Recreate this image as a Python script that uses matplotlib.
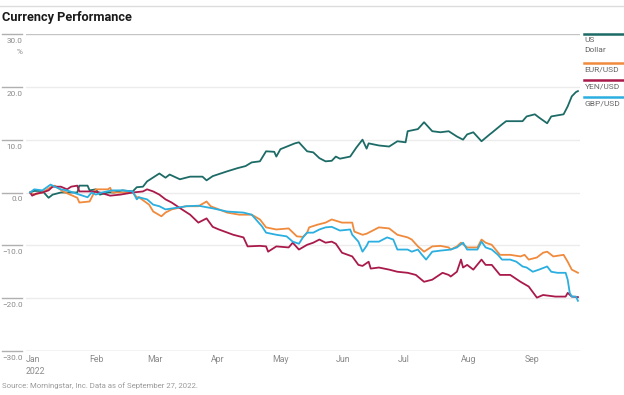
import matplotlib
matplotlib.use("Agg")
import matplotlib.pyplot as plt
from matplotlib.lines import Line2D
from matplotlib.transforms import blended_transform_factory
import pandas as pd

# ---- data ----
usd_dates = ["01-03", "01-05", "01-09", "01-12", "01-14", "01-18", "01-26", "01-27", "01-31", "02-01",
             "02-04", "02-06", "02-10", "02-13", "02-17", "02-22", "02-24", "02-27", "03-01", "03-07",
             "03-10", "03-12", "03-17", "03-22", "03-28", "03-30", "04-02", "04-09", "04-14", "04-18",
             "04-21", "04-25", "04-28", "05-02", "05-03", "05-05", "05-12", "05-14", "05-18", "05-21",
             "05-24", "05-27", "05-30", "06-01", "06-03", "06-08", "06-11", "06-14", "06-16", "06-17",
             "06-22", "06-27", "07-01", "07-05", "07-06", "07-11", "07-14", "07-18", "07-22", "07-26",
             "07-30", "08-02", "08-04", "08-07", "08-11", "08-15", "08-16", "08-21", "08-23", "08-31",
             "09-02", "09-06", "09-08", "09-12", "09-14", "09-20", "09-22", "09-24", "09-26", "09-27"]
usd_vals = [0.0, 0.3, 0.3, -1.0, -0.4, 0.0, 0.0, 1.3, 1.3, 0.4,
            0.6, -0.4, 0.0, 0.0, 0.4, 0.2, 1.0, 1.1, 2.1, 3.6,
            2.8, 3.4, 2.5, 3.0, 3.0, 2.3, 3.1, 4.0, 4.6, 5.0,
            5.7, 5.9, 7.8, 7.7, 6.8, 8.2, 9.3, 9.5, 7.8, 7.6,
            6.5, 5.9, 6.0, 6.8, 6.4, 6.8, 8.5, 10.0, 8.3, 9.3,
            8.9, 8.7, 9.7, 9.5, 11.6, 12.0, 13.3, 11.6, 11.4, 11.6,
            10.6, 10.0, 11.0, 11.4, 9.7, 11.0, 11.3, 12.9, 13.5, 13.5,
            14.4, 14.8, 14.2, 13.1, 14.4, 14.8, 16.3, 18.2, 19.0, 19.2]

eur_dates = ["01-03", "01-05", "01-09", "01-13", "01-15", "01-19", "01-26", "01-27", "02-01", "02-04",
             "02-10", "02-11", "02-12", "02-22", "02-24", "02-25", "03-02", "03-04", "03-08", "03-10",
             "03-13", "03-20", "03-26", "03-30", "04-01", "04-09", "04-15", "04-21", "04-25", "04-28",
             "05-03", "05-09", "05-13", "05-16", "05-18", "05-19", "05-23", "05-27", "05-30", "06-04",
             "06-09", "06-10", "06-14", "06-16", "06-22", "06-27", "07-01", "07-06", "07-08", "07-11",
             "07-14", "07-18", "07-22", "07-26", "07-27", "07-30", "08-01", "08-04", "08-09", "08-11",
             "08-13", "08-16", "08-20", "08-25", "08-30", "09-01", "09-03", "09-07", "09-10", "09-12",
             "09-15", "09-20", "09-22", "09-24", "09-27"]
eur_vals = [0.0, -0.4, 0.0, 1.0, 1.3, 0.2, -1.0, -1.9, -1.7, 0.6,
            0.6, 0.9, 0.0, 0.0, -0.9, -0.9, -2.3, -3.6, -4.5, -3.8,
            -3.2, -2.6, -2.6, -1.7, -2.6, -3.8, -4.2, -4.2, -5.1, -6.6,
            -7.0, -6.8, -8.3, -8.4, -7.6, -6.6, -6.1, -5.7, -5.1, -5.7,
            -5.7, -7.4, -8.0, -7.8, -6.6, -6.8, -8.0, -8.5, -8.9, -10.2,
            -11.2, -10.2, -10.1, -10.4, -10.8, -10.2, -9.5, -10.4, -10.4, -8.9,
            -9.5, -9.9, -11.8, -11.8, -12.1, -11.8, -12.7, -12.3, -11.4, -11.2,
            -12.1, -11.8, -13.1, -14.6, -15.2]

yen_dates = ["01-03", "01-04", "01-06", "01-09", "01-12", "01-14", "01-18", "01-21", "01-23", "01-26",
             "01-27", "02-02", "02-06", "02-11", "02-16", "02-22", "02-27", "03-01", "03-04", "03-07",
             "03-10", "03-13", "03-18", "03-22", "03-26", "03-30", "04-02", "04-05", "04-12", "04-17",
             "04-19", "04-25", "04-28", "04-29", "05-03", "05-09", "05-11", "05-14", "05-18", "05-21",
             "05-24", "05-27", "05-30", "06-01", "06-04", "06-09", "06-12", "06-14", "06-17", "06-18",
             "06-22", "06-27", "07-01", "07-06", "07-10", "07-14", "07-18", "07-23", "07-26", "07-27",
             "07-30", "08-01", "08-02", "08-04", "08-07", "08-11", "08-13", "08-16", "08-20", "08-25",
             "08-30", "09-03", "09-07", "09-10", "09-16", "09-21", "09-22", "09-24", "09-27"]
yen_vals = [0.0, -0.6, -0.2, 0.0, 0.4, 1.1, 1.1, 0.6, 1.1, 1.3,
            0.2, 0.2, 0.0, -0.6, -0.4, 0.0, 0.2, 0.6, 0.2, -0.4,
            -1.3, -1.9, -3.2, -4.2, -5.7, -4.9, -6.5, -7.0, -8.0, -8.5,
            -10.2, -10.1, -10.2, -11.2, -10.2, -10.4, -9.5, -10.8, -9.9, -9.5,
            -8.9, -9.5, -9.3, -9.7, -11.4, -12.1, -13.7, -13.9, -13.1, -14.4,
            -14.2, -14.6, -15.0, -15.2, -15.6, -16.9, -16.5, -15.2, -15.6, -15.9,
            -15.0, -12.7, -14.2, -13.7, -14.6, -12.7, -13.7, -13.7, -15.6, -15.6,
            -16.9, -17.8, -19.9, -19.4, -19.7, -19.7, -19.0, -19.7, -19.8]

gbp_dates = ["01-03", "01-05", "01-09", "01-13", "01-15", "01-18", "01-21", "01-24", "01-27", "01-31",
             "02-02", "02-04", "02-07", "02-12", "02-17", "02-22", "02-24", "02-25", "03-01", "03-04",
             "03-07", "03-10", "03-17", "03-20", "03-26", "04-02", "04-09", "04-17", "04-21", "04-26",
             "04-28", "05-03", "05-08", "05-11", "05-14", "05-16", "05-18", "05-21", "05-24", "05-27",
             "05-30", "06-03", "06-08", "06-09", "06-12", "06-14", "06-16", "06-17", "06-22", "06-26",
             "06-29", "07-01", "07-06", "07-08", "07-11", "07-13", "07-15", "07-18", "07-22", "07-27",
             "07-30", "08-02", "08-04", "08-09", "08-11", "08-13", "08-16", "08-19", "08-21", "08-25",
             "08-28", "08-31", "09-02", "09-05", "09-08", "09-12", "09-14", "09-17", "09-21", "09-22",
             "09-23", "09-24", "09-26", "09-27"]
gbp_vals = [0.0, 0.6, 0.4, 1.5, 1.1, 0.6, 0.4, 0.0, -0.4, -0.9,
            0.0, -0.4, 0.0, 0.4, 0.4, 0.2, -1.3, -0.9, -1.3, -2.3,
            -2.6, -3.2, -2.8, -2.6, -2.5, -3.0, -3.6, -3.8, -4.2, -6.4,
            -7.6, -8.0, -8.3, -9.3, -9.7, -8.5, -7.6, -7.6, -7.0, -6.6,
            -6.5, -7.2, -7.0, -8.0, -9.3, -11.2, -10.1, -9.3, -9.3, -8.5,
            -8.9, -10.8, -10.8, -11.2, -10.8, -11.8, -12.7, -11.2, -11.0, -10.8,
            -10.4, -9.5, -10.8, -10.8, -9.3, -10.4, -10.8, -11.8, -12.7, -12.7,
            -13.1, -14.0, -14.2, -15.0, -14.6, -14.0, -15.0, -15.2, -15.2, -16.5,
            -19.0, -19.7, -19.7, -20.5]

names = ["US\nDollar", "EUR/USD", "YEN/USD", "GBP/USD"]
colors = ["#1d6b66", "#f08a3c", "#a91a4b", "#2aafe0"]
yticks = [-30, -20, -10, 0, 10, 20, 30]
months = ["Jan\n2022", "Feb", "Mar", "Apr", "May", "Jun", "Jul", "Aug", "Sep"]
title = "Currency Performance"
source = "Source: Morningstar, Inc. Data as of September 27, 2022."

plt.rcParams["font.family"] = ["Roboto", "DejaVu Sans"]


def to_dates(md):
    return pd.to_datetime(["2022-" + d for d in md])


fig = plt.figure(figsize=(6.24, 3.95), dpi=100)
W, H = 624.0, 395.0
ax = fig.add_axes([26 / W, 1 - 351 / H, 554 / W, 317 / H])

series = [(usd_dates, usd_vals), (eur_dates, eur_vals), (yen_dates, yen_vals), (gbp_dates, gbp_vals)]
order = [1, 3, 2, 0]
for i in order:
    d, v = series[i]
    ax.plot(to_dates(d), v, color=colors[i], lw=1.3, zorder=3 + i)

ax.set_xlim(pd.Timestamp("2022-01-01"), pd.Timestamp("2022-09-28"))
ax.set_ylim(-30, 30)

for s in ax.spines.values():
    s.set_visible(False)

# gridlines
for yv in yticks:
    if yv in (-30, 30):
        ax.axhline(yv, color="#c4c4c4", lw=1.0, zorder=1)
    else:
        ax.axhline(yv, color="#ececec", lw=1.0, zorder=1)

ax.set_yticks([])
month_starts = pd.date_range("2022-01-01", periods=9, freq="MS")
ax.set_xticks(month_starts)
ax.set_xticklabels(months, ha="left", multialignment="left", fontsize=6.3, color="#8a8a8a",
                   linespacing=1.4)
ax.tick_params(axis="x", length=0, pad=3)

# y labels with short rule above each
ytr = blended_transform_factory(fig.transFigure, ax.transData)
for yv in yticks:
    ax.add_line(Line2D([2 / W, 22 / W], [yv, yv], transform=ytr, color="#b0b0b0", lw=1.0, clip_on=False))
    lbl = f"{yv:.1f}".replace("-", "\u2212")
    ax.text(22.5 / W, yv - 0.75, lbl, transform=ytr, ha="right", va="top", fontsize=5.9, color="#8a8a8a")
ax.text(22.5 / W, 30 - 2.9, "%", transform=ytr, ha="right", va="top", fontsize=5.9, color="#8a8a8a")

# legend on the right
leg_y = [34, 63, 80, 97]
for i, name in enumerate(names):
    y0 = 1 - leg_y[i] / H
    fig.add_artist(Line2D([584 / W, 623 / W], [y0, y0], color=colors[i], lw=1.8))
    fig.text(584.5 / W, y0 - 3.5 / H, name, ha="left", va="top", fontsize=6.0, color="#666666",
             linespacing=1.6)

# title, top rule, source
fig.add_artist(Line2D([0, 1], [1 - 6 / H, 1 - 6 / H], color="#dcdcdc", lw=1.0))
fig.text(2 / W, 1 - 17 / H, title, ha="left", va="center", fontsize=9.2, fontweight="bold", color="#1a1a1a")
fig.text(2 / W, 1 - 386 / H, source, ha="left", va="center", fontsize=5.6, color="#9a9a9a")

fig.savefig("out.png", dpi=100)
